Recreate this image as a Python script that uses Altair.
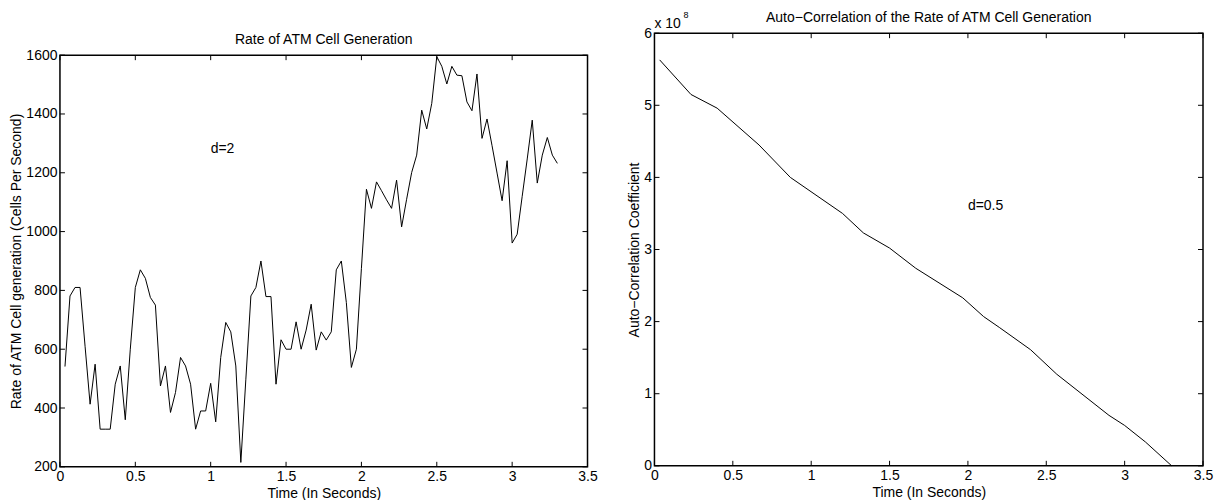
import altair as alt
import pandas as pd

FONT = "Liberation Sans"

# Rate of ATM cell generation (cells per second), one sample every 1/30 s
rate_cells = [
    541, 781, 810, 810, 610, 413, 549, 328, 328, 328,
    481, 543, 360, 600, 810, 870, 841, 776, 750, 475,
    543, 385, 453, 572, 543, 481, 328, 390, 390, 484,
    353, 572, 691, 659, 543, 215, 498, 781, 810, 900,
    779, 779, 481, 632, 600, 600, 693, 600, 665, 753,
    597, 659, 631, 659, 870, 900, 759, 538, 600, 875,
    1144, 1079, 1169, 1139, 1108, 1079, 1175, 1016, 1110, 1201,
    1260, 1413, 1349, 1436, 1595, 1562, 1502, 1562, 1532, 1530,
    1441, 1411, 1536, 1317, 1383, 1292, 1199, 1105, 1241, 961,
    991, 1120, 1247, 1379, 1165, 1260, 1320, 1260, 1232,
]
rate_time = [(k + 1) / 30 for k in range(len(rate_cells))]

# Auto-correlation of the rate
acf_time = [0.033, 0.233, 0.4, 0.667, 0.867, 1.2, 1.333, 1.5, 1.667,
            1.967, 2.1, 2.2, 2.4, 2.567, 2.9, 3.0, 3.133, 3.3]
acf_value = [5.63e8, 5.15e8, 4.96e8, 4.45e8, 4.0e8, 3.5e8, 3.23e8, 3.02e8, 2.74e8,
             2.33e8, 2.07e8, 1.92e8, 1.61e8, 1.27e8, 0.70e8, 0.56e8, 0.33e8, 0.0]

time_ticks = [0, 0.5, 1, 1.5, 2, 2.5, 3, 3.5]
rate_ticks = [200, 400, 600, 800, 1000, 1200, 1400, 1600]
acf_ticks = [0, 1e8, 2e8, 3e8, 4e8, 5e8, 6e8]

rate_title = "Rate of ATM Cell Generation"
acf_title = "Auto\u2212Correlation of the Rate of ATM Cell Generation"

rate_note = pd.DataFrame({"time": [1.0], "rate": [1280], "label": ["d=2"]})
acf_note = pd.DataFrame({"time": [2.0], "acf": [3.6e8], "label": ["d=0.5"]})

W1, H1 = 528, 412
W2, H2 = 549, 433
DROP = 22   # the left panel sits lower than the right one
TICK = 5


def axis(values, title, **kw):
    return alt.Axis(values=values, title=title, grid=False, ticks=False,
                    tickSize=0, domain=False, labelPadding=3, labelFont=FONT,
                    labelFontSize=14, labelColor="black", titleFont=FONT,
                    titleFontSize=14, titleFontWeight="normal", titleColor="black",
                    labelOverlap=False, labelFlush=False, **kw)


def panel(df, xfield, yfield, xscale, yscale, xaxis, yaxis, xvals, yvals, w, h):
    """Line plus inward-pointing box ticks on all four sides."""
    x_enc = alt.X(f"{xfield}:Q", scale=xscale, axis=xaxis)
    y_enc = alt.Y(f"{yfield}:Q", scale=yscale, axis=yaxis)
    xt = pd.DataFrame({xfield: xvals})
    yt = pd.DataFrame({yfield: yvals})
    rule = dict(color="black", strokeWidth=1)
    line = alt.Chart(df).mark_line(color="black", strokeWidth=1).encode(x=x_enc, y=y_enc)
    ticks = [
        alt.Chart(xt).mark_rule(**rule).encode(x=x_enc, y=alt.value(h), y2=alt.value(h - TICK)),
        alt.Chart(xt).mark_rule(**rule).encode(x=x_enc, y=alt.value(0), y2=alt.value(TICK)),
        alt.Chart(yt).mark_rule(**rule).encode(y=y_enc, x=alt.value(0), x2=alt.value(TICK)),
        alt.Chart(yt).mark_rule(**rule).encode(y=y_enc, x=alt.value(w - TICK), x2=alt.value(w)),
    ]
    return line, ticks, x_enc, y_enc


def heading(text, w):
    return alt.Chart(pd.DataFrame({"t": [text]})).mark_text(
        align="center", baseline="alphabetic", font=FONT, fontSize=14, color="black"
    ).encode(x=alt.value(w / 2), y=alt.value(-11), text="t:N")


time_fmt = "format(datum.value, '.1~f')"

# ---- left panel: rate of cell generation ----
t_scale1 = alt.Scale(domain=[0, 3.5], nice=False, zero=False)
r_scale = alt.Scale(domain=[200, 1600], nice=False, zero=False)
rate_df = pd.DataFrame({"time": rate_time, "rate": rate_cells})

rate_line, rate_ticks_layers, tx1, ry = panel(
    rate_df, "time", "rate", t_scale1, r_scale,
    axis(time_ticks, "Time (In Seconds)", titlePadding=3, labelExpr=time_fmt),
    axis(rate_ticks, "Rate of ATM Cell generation (Cells Per Second)", titlePadding=2,
         labelExpr="format(datum.value, 'd')"),
    time_ticks, rate_ticks, W1, H1,
)
rate_text = alt.Chart(rate_note).mark_text(
    align="left", baseline="middle", font=FONT, fontSize=14, color="black"
).encode(x=tx1, y=ry, text="label:N")

left = alt.layer(rate_line, rate_text, heading(rate_title, W1), *rate_ticks_layers).properties(
    width=W1, height=H1,
)

spacer = alt.Chart(pd.DataFrame({"t": [""]})).mark_text(opacity=0).encode(
    text="t:N"
).properties(width=W1, height=DROP, view=alt.ViewBackground(stroke="transparent"))

left_column = alt.vconcat(spacer, left, spacing=0, bounds="flush")

# ---- right panel: auto-correlation ----
t_scale2 = alt.Scale(domain=[0, 3.5], nice=False, zero=False)
a_scale = alt.Scale(domain=[0, 6e8], nice=False, zero=False)
acf_df = pd.DataFrame({"time": acf_time, "acf": acf_value})

acf_line, acf_ticks_layers, tx2, ay = panel(
    acf_df, "time", "acf", t_scale2, a_scale,
    axis(time_ticks, "Time (In Seconds)", titlePadding=3, labelExpr=time_fmt),
    axis(acf_ticks, "Auto\u2212Correlation Coefficient", titlePadding=2,
         labelExpr="format(datum.value / 1e8, 'd')"),
    time_ticks, acf_ticks, W2, H2,
)
acf_text = alt.Chart(acf_note).mark_text(
    align="left", baseline="middle", font=FONT, fontSize=14, color="black"
).encode(x=tx2, y=ay, text="label:N")

# exponent marker above the y axis
exp_base = alt.Chart(acf_note).mark_text(
    align="left", baseline="alphabetic", font=FONT, fontSize=14, color="black", text="x 10"
).encode(x=alt.value(0), y=alt.value(-5))
exp_pow = alt.Chart(acf_note).mark_text(
    align="left", baseline="alphabetic", font=FONT, fontSize=9, color="black", text="8"
).encode(x=alt.value(29), y=alt.value(-15))

right = alt.layer(
    acf_line, acf_text, exp_base, exp_pow, heading(acf_title, W2), *acf_ticks_layers
).properties(width=W2, height=H2)

chart = alt.hconcat(left_column, right, spacing=28).resolve_scale(
    x="independent", y="independent"
).properties(
    padding={"left": 9, "top": 10, "right": 0, "bottom": 0},
    background="white",
).configure_view(stroke="black", strokeWidth=1.5)

chart.save("out.html", embed_options={"renderer": "svg", "actions": False})
